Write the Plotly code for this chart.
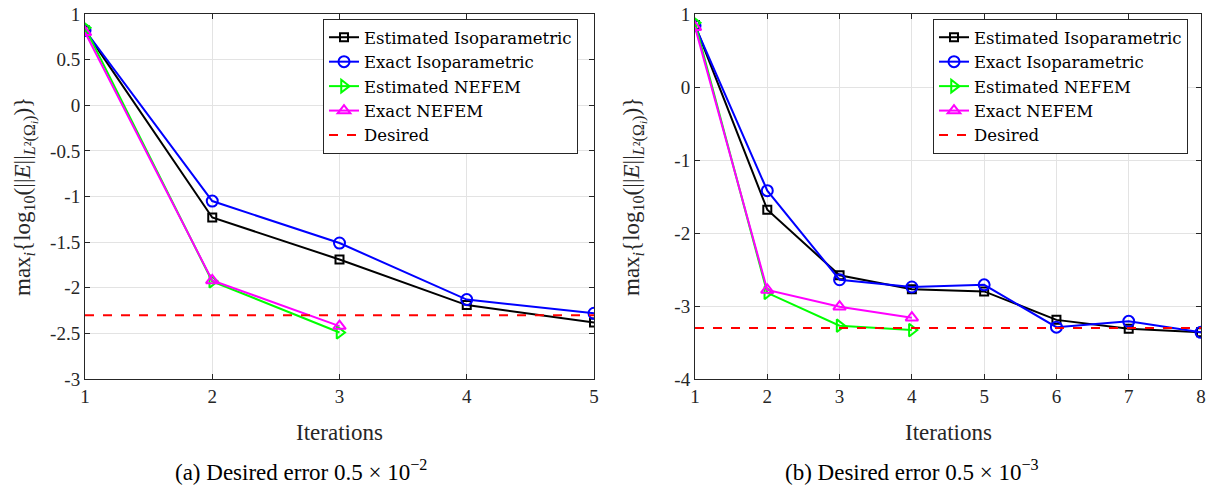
import plotly.graph_objects as go

# ---- data ----
iters_a = [1, 2, 3, 4, 5]
est_iso_a = [0.82, -1.23, -1.69, -2.19, -2.38]
exa_iso_a = [0.82, -1.05, -1.51, -2.13, -2.28]
iters_nef_a = [1, 2, 3]
est_nef_a = [0.85, -1.93, -2.49]
exa_nef_a = [0.80, -1.92, -2.42]
desired_a = -2.301

iters_b = [1, 2, 3, 4, 5, 6, 7, 8]
est_iso_b = [0.85, -1.68, -2.58, -2.77, -2.80, -3.19, -3.31, -3.36]
exa_iso_b = [0.84, -1.42, -2.64, -2.74, -2.71, -3.29, -3.21, -3.36]
iters_nef_b = [1, 2, 3, 4]
est_nef_b = [0.88, -2.82, -3.27, -3.33]
exa_nef_b = [0.82, -2.78, -3.01, -3.16]
desired_b = -3.301

yticks_a = [1, 0.5, 0, -0.5, -1, -1.5, -2, -2.5, -3]
yticks_b = [1, 0, -1, -2, -3, -4]

names = ["Estimated Isoparametric", "Exact Isoparametric", "Estimated NEFEM", "Exact NEFEM", "Desired"]
captions = ["(a) Desired error 0.5 × 10<sup>−2</sup>", "(b) Desired error 0.5 × 10<sup>−3</sup>"]

FONT = "Liberation Serif, DejaVu Serif, serif"
LFONT = "DejaVu Serif, Liberation Serif, serif"

W, H = 1215, 495

def px(s):
    return s / W

def py(s):
    return 1 - s / H

fig = go.Figure()

def add_panel(xa, ya, leg, iters, est_iso, exa_iso, iters_nef, est_nef, exa_nef, desired):
    common = dict(xaxis=xa, yaxis=ya, legend=leg, mode="lines+markers")
    fig.add_trace(go.Scatter(x=iters, y=est_iso, name=names[0],
                             line=dict(color="black", width=2),
                             marker=dict(symbol="square-open", size=8, color="black", line=dict(width=2)), **common))
    fig.add_trace(go.Scatter(x=iters, y=exa_iso, name=names[1],
                             line=dict(color="#0000ff", width=2),
                             marker=dict(symbol="circle-open", size=11, color="#0000ff", line=dict(width=2)), **common))
    fig.add_trace(go.Scatter(x=iters_nef, y=est_nef, name=names[2],
                             line=dict(color="#00ff00", width=2),
                             marker=dict(symbol="triangle-right-open", size=11, color="#00ff00", line=dict(width=2)), **common))
    fig.add_trace(go.Scatter(x=iters_nef, y=exa_nef, name=names[3],
                             line=dict(color="#ff00ff", width=2),
                             marker=dict(symbol="triangle-up-open", size=11, color="#ff00ff", line=dict(width=2)), **common))
    fig.add_trace(go.Scatter(x=[iters[0], iters[-1]], y=[desired, desired], name=names[4],
                             xaxis=xa, yaxis=ya, legend=leg, mode="lines",
                             line=dict(color="#ff0000", width=2, dash="dash")))

add_panel("x", "y", "legend", iters_a, est_iso_a, exa_iso_a, iters_nef_a, est_nef_a, exa_nef_a, desired_a)
add_panel("x2", "y2", "legend2", iters_b, est_iso_b, exa_iso_b, iters_nef_b, est_nef_b, exa_nef_b, desired_b)

ytop = py(14)
ybot = py(379)

axis_style = dict(showline=True, mirror="ticks", linecolor="#262626", linewidth=1,
                  ticks="inside", ticklen=5, tickcolor="#262626", automargin=False,
                  ticklabeloverflow="allow",
                  showgrid=True, gridcolor="#e3e3e3", gridwidth=1, zeroline=False,
                  tickfont=dict(family=FONT, size=19, color="#262626"))

def fmt(v):
    return "%g" % v

legend_style = dict(xanchor="left", yanchor="top",
                    bgcolor="white", bordercolor="#262626", borderwidth=1,
                    font=dict(family=LFONT, size=16.5, color="black"),
                    tracegroupgap=0, itemwidth=30)

fig.update_layout(
    template="none",
    width=W, height=H, margin=dict(l=0, r=0, t=0, b=0, autoexpand=False),
    paper_bgcolor="white", plot_bgcolor="white",
    font=dict(family=FONT, color="#262626"),
    xaxis=dict(domain=[px(85), px(594)], range=[1, 5], tickvals=iters_a,
               ticktext=[str(v) for v in iters_a], anchor="y", **axis_style),
    yaxis=dict(domain=[ybot, ytop], range=[-3, 1], tickvals=yticks_a,
               ticktext=[fmt(v) for v in yticks_a], anchor="x", **axis_style),
    xaxis2=dict(domain=[px(695), px(1201)], range=[1, 8], tickvals=iters_b,
                ticktext=[str(v) for v in iters_b], anchor="y2", **axis_style),
    yaxis2=dict(domain=[ybot, ytop], range=[-4, 1], tickvals=yticks_b,
                ticktext=[fmt(v) for v in yticks_b], anchor="x2", **axis_style),
    legend=dict(x=px(323), y=py(19), **legend_style),
    legend2=dict(x=px(933), y=py(19), **legend_style),
    showlegend=True,
)

ytitle = "max<sub><i>i</i></sub>{log<sub>10</sub>(||<i>E</i>||<sub><i>L</i>²(Ω<sub><i>i</i></sub>)</sub>)}"
anns = []
for xc, yc in [(25, 197), (634, 197)]:
    anns.append(dict(x=px(xc), y=py(yc), xref="paper", yref="paper", text=ytitle,
                     textangle=-90, showarrow=False, font=dict(family=FONT, size=23, color="#262626"),
                     xanchor="center", yanchor="middle"))
for xc in [(85 + 594) / 2, (695 + 1201) / 2]:
    anns.append(dict(x=px(xc), y=py(432), xref="paper", yref="paper", text="Iterations",
                     showarrow=False, font=dict(family=FONT, size=23, color="#262626"),
                     xanchor="center", yanchor="middle"))
for xc, cap in zip([301, 912], captions):
    anns.append(dict(x=px(xc), y=py(470), xref="paper", yref="paper", text=cap,
                     showarrow=False, font=dict(family=FONT, size=23, color="black"),
                     xanchor="center", yanchor="middle"))
fig.update_layout(annotations=anns)

# remove the browser's default 8px page margin so the figure fills the window
fig.write_html("out.html", config={"displayModeBar": False},
               post_script="document.body.style.margin='0';document.body.style.overflow='hidden';")
